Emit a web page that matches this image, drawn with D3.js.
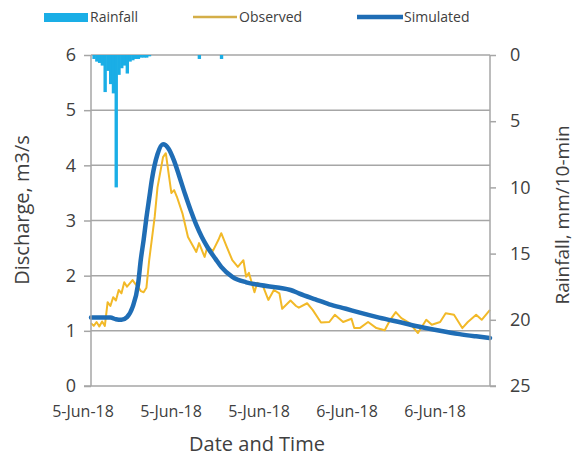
<!DOCTYPE html>
<html>
<head>
    <script src="https://d3js.org/d3.v7.min.js"></script>
    <style>
        body { margin: 0; background: #fff; }
        text { font-family: "Open Sans", sans-serif; fill: #404040; }
    </style>
</head>
<body>
    <div id="chart"></div>
    <script>
        // time is counted in 10-minute steps from the start of the record
        var xLabels = ["5-Jun-18", "5-Jun-18", "5-Jun-18", "6-Jun-18", "6-Jun-18"];

        var rainStep = [1, 2, 3, 4, 5, 6, 7, 8, 9, 10, 11, 12, 13, 14, 15, 16, 17, 18, 19, 20, 21, 39, 47];
        var rainVal  = [0.3, 0.5, 0.6, 0.8, 2.8, 1.2, 2.2, 2.9, 10.0, 1.5, 1.0, 0.8, 1.4, 0.5, 0.4, 0.3, 0.3, 0.2, 0.2, 0.2, 0.1, 0.3, 0.3];

        var obsStep = [0, 1, 2, 3, 4, 5, 6, 7, 8, 9, 10, 11, 12, 13, 15, 16, 17, 18, 19, 20, 21, 23, 24, 26, 27, 28, 29, 30, 31, 33,
                       35, 37, 38, 39, 41, 42, 44, 46, 47, 49, 51, 53, 55, 56, 57, 59, 60, 62, 64, 66, 68, 69, 72, 74, 75, 78, 80, 83,
                       86, 88, 91, 94, 95, 97, 100, 103, 106, 108, 110, 112, 115, 118, 121, 123, 126, 128, 131, 134, 136, 139, 141, 144];
        var obsVal  = [1.14, 1.09, 1.16, 1.08, 1.17, 1.09, 1.52, 1.45, 1.61, 1.55, 1.74, 1.68, 1.88, 1.8, 1.92, 1.85, 1.8, 1.72, 1.7, 1.78, 2.28, 3.07, 3.6, 4.15, 4.22, 3.86, 3.5, 3.55, 3.43, 3.13,
                       2.7, 2.52, 2.43, 2.59, 2.34, 2.52, 2.45, 2.65, 2.77, 2.52, 2.28, 2.16, 2.28, 1.98, 2.05, 1.7, 1.87, 1.82, 1.56, 1.74, 1.68, 1.4, 1.55, 1.45,
                       1.42, 1.5, 1.38, 1.15, 1.16, 1.29, 1.16, 1.22, 1.05, 1.05, 1.16, 1.05, 1.01, 1.2, 1.34, 1.23, 1.14, 0.96, 1.2, 1.11, 1.16, 1.32, 1.29, 1.05, 1.16, 1.29, 1.2, 1.38];

        var simStep = [0, 3, 7, 9, 11, 13, 15, 17, 18, 19, 20, 21, 22, 24, 26, 28, 30, 32, 34, 36, 38, 40, 42, 45, 47, 51, 56, 61, 68, 72, 75,
                       81, 86, 92, 97, 104, 112, 119, 126, 133, 139, 144];
        var simVal  = [1.24, 1.24, 1.24, 1.21, 1.2, 1.25, 1.43, 1.85, 2.3, 2.65, 3.05, 3.4, 3.75, 4.2, 4.38, 4.3, 4.08, 3.78, 3.47, 3.18, 2.92, 2.7, 2.52, 2.3, 2.16, 1.98, 1.88, 1.83, 1.78, 1.74, 1.68,
                       1.57, 1.48, 1.4, 1.33, 1.24, 1.15, 1.07, 1.0, 0.94, 0.9, 0.87];

        var leftTicks = [0, 1, 2, 3, 4, 5, 6];
        var rightTicks = [0, 5, 10, 15, 20, 25];

        var W = 577, H = 461;
        var margin = { top: 55, right: 87, bottom: 75, left: 91 };
        var width = W - margin.left - margin.right,
            height = H - margin.top - margin.bottom;

        var svg = d3.select("#chart").append("svg")
            .attr("width", W).attr("height", H);
        var g = svg.append("g")
            .attr("transform", "translate(" + margin.left + "," + margin.top + ")");

        var x = d3.scaleLinear().domain([0, 144]).range([0, width]);
        var y = d3.scaleLinear().domain([0, 6]).range([height, 0]);
        var yRain = d3.scaleLinear().domain([0, 25]).range([0, height]);
        var xLab = d3.scalePoint().domain(d3.range(xLabels.length)).range([-8, 344]);

        // gridlines
        g.selectAll(".grid").data(leftTicks.slice(1)).enter().append("line")
            .attr("x1", 0).attr("x2", width)
            .attr("y1", function (d) { return y(d); }).attr("y2", function (d) { return y(d); })
            .attr("stroke", "#a6a6a6").attr("stroke-width", 1.5);

        // rainfall bars hanging from the top
        var bw = x(1) - x(0);
        g.selectAll(".rain").data(rainStep).enter().append("rect")
            .attr("x", function (d) { return x(d) - bw / 2; })
            .attr("y", 0)
            .attr("width", bw + 0.6)
            .attr("height", function (d, i) { return yRain(rainVal[i]); })
            .attr("fill", "#1aaee6");

        var obs = obsStep.map(function (s, i) { return [s, obsVal[i]]; });
        var sim = simStep.map(function (s, i) { return [s, simVal[i]]; });

        g.append("path").datum(obs)
            .attr("fill", "none").attr("stroke", "#f2b928").attr("stroke-width", 2)
            .attr("stroke-linejoin", "round")
            .attr("d", d3.line().x(function (d) { return x(d[0]); }).y(function (d) { return y(d[1]); }));

        g.append("path").datum(sim)
            .attr("fill", "none").attr("stroke", "#1f6db5").attr("stroke-width", 4.5)
            .attr("stroke-linecap", "round")
            .attr("d", d3.line().curve(d3.curveMonotoneX).x(function (d) { return x(d[0]); }).y(function (d) { return y(d[1]); }));

        // axes
        var axL = g.append("g")
            .call(d3.axisLeft(y).tickValues(leftTicks).tickFormat(d3.format("d")).tickSize(7).tickPadding(8));
        var axR = g.append("g").attr("transform", "translate(" + width + ",0)")
            .call(d3.axisRight(yRain).tickValues(rightTicks).tickSize(6).tickPadding(14));
        g.append("line").attr("x1", -7).attr("x2", width + 6)
            .attr("y1", height).attr("y2", height)
            .attr("stroke", "#a6a6a6").attr("stroke-width", 1.5);
        [axL, axR].forEach(function (a) {
            a.select(".domain").attr("stroke", "#a6a6a6").attr("stroke-width", 1.5);
            a.selectAll(".tick line").attr("stroke", "#a6a6a6").attr("stroke-width", 1.5);
            a.selectAll(".tick text").style("font-size", "18px").attr("fill", "#404040");
        });
        axL.select(".domain").attr("d", "M0,0V" + height);
        axR.select(".domain").attr("d", "M0,0V" + height);

        g.selectAll(".xlab").data(xLabels).enter().append("text")
            .attr("x", function (d, i) { return xLab(i); })
            .attr("y", height + 31)
            .attr("text-anchor", "middle")
            .style("font-size", "16px")
            .text(function (d) { return d; });

        // axis titles
        svg.append("text").attr("x", margin.left + 166).attr("y", 451)
            .attr("text-anchor", "middle").style("font-size", "20px").text("Date and Time");
        svg.append("text").attr("transform", "translate(29,210) rotate(-90)")
            .attr("text-anchor", "middle").style("font-size", "20px").text("Discharge, m3/s");
        svg.append("text").attr("transform", "translate(569,215) rotate(-90)")
            .attr("text-anchor", "middle").style("font-size", "19px").text("Rainfall, mm/10-min");

        // legend
        var leg = svg.append("g");
        leg.append("rect").attr("x", 44).attr("y", 13).attr("width", 44).attr("height", 9).attr("fill", "#1aaee6");
        leg.append("text").attr("x", 90).attr("y", 22).style("font-size", "14px").text("Rainfall");
        leg.append("line").attr("x1", 193).attr("x2", 237).attr("y1", 17).attr("y2", 17)
            .attr("stroke", "#d4ae48").attr("stroke-width", 2.5);
        leg.append("text").attr("x", 239).attr("y", 22).style("font-size", "14px").text("Observed");
        leg.append("line").attr("x1", 357).attr("x2", 403).attr("y1", 17).attr("y2", 17)
            .attr("stroke", "#1f6db5").attr("stroke-width", 4.5);
        leg.append("text").attr("x", 404).attr("y", 22).style("font-size", "14px").text("Simulated");
    </script>
</body>
</html>
